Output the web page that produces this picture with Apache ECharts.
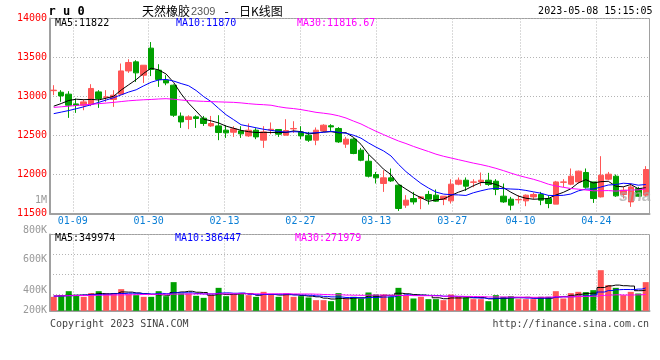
<!DOCTYPE html>
<html><head><meta charset="utf-8">
<script src="https://cdn.jsdelivr.net/npm/echarts@6/dist/echarts.min.js"></script>
<style>html,body{margin:0;padding:0;background:#fff}#c{width:660px;height:360px}</style>
</head><body><div id="c"></div>
<script>
const dates = ['01-04','01-05','01-06','01-09','01-10','01-11','01-12','01-13','01-16','01-17','01-18','01-19','01-20','01-30','01-31',
'02-01','02-02','02-03','02-06','02-07','02-08','02-09','02-10','02-13','02-14','02-15','02-16','02-17','02-20','02-21','02-22','02-23','02-24','02-27','02-28',
'03-01','03-02','03-03','03-06','03-07','03-08','03-09','03-10','03-13','03-14','03-15','03-16','03-17','03-20','03-21','03-22','03-23','03-24','03-27','03-28','03-29','03-30','03-31',
'04-03','04-04','04-06','04-07','04-10','04-11','04-12','04-13','04-14','04-17','04-18','04-19','04-20','04-21','04-24','04-25','04-26','04-27','04-28',
'05-04','05-05','05-08'];
const opens = [13075,13055,13030,12905,12888,12901,13059,12990,12962,13030,13328,13444,13273,13620,13337,13209,13145,12748,12705,12739,
12722,12623,12623,12568,12542,12559,12495,12568,12440,12570,12577,12504,12585,12546,12504,12440,12559,12625,12590,12389,
12453,12312,12170,12000,11885,11957,11863,11607,11692,11692,11744,11735,11680,11662,11876,11927,11900,11905,11927,11914,
11722,11684,11675,11662,11713,11744,11692,11620,11900,11876,11905,12026,11905,11713,11940,11978,11744,11649,11820,11735];
const closes = [13081,13008,12888,12885,12931,13103,12974,12995,13017,13328,13436,13303,13401,13346,13218,13174,12760,12674,12739,12718,
12654,12654,12538,12534,12585,12521,12568,12482,12546,12580,12517,12564,12590,12495,12440,12568,12632,12610,12418,12453,
12269,12183,11978,11957,11957,11918,11564,11671,11649,11713,11684,11658,11722,11876,11927,11850,11905,11927,11872,11808,
11649,11607,11680,11735,11744,11671,11628,11905,11905,11978,12043,11837,11692,11991,12004,11726,11799,11841,11722,12064];
const lows = [13017,12932,12726,12790,12824,12876,12854,12931,12867,13017,13303,13187,13174,13262,13123,13145,12738,12597,12581,12597,
12623,12610,12440,12469,12482,12469,12482,12453,12341,12517,12482,12504,12533,12453,12418,12376,12546,12559,12405,12341,
12260,12170,11962,11885,11777,11905,11533,11572,11615,11555,11615,11649,11607,11628,11863,11790,11837,11854,11854,11735,
11636,11542,11628,11594,11680,11607,11568,11620,11837,11863,11885,11820,11636,11705,11927,11713,11692,11585,11713,11713];
const highs = [13145,13081,13068,12975,12965,13158,13081,13081,13081,13423,13478,13465,13401,13698,13414,13273,13154,12795,12760,12760,
12751,12751,12760,12632,12619,12619,12654,12594,12619,12667,12580,12709,12683,12619,12546,12603,12645,12645,12607,12482,
12469,12341,12256,12033,12055,12077,11872,11735,11777,11722,11790,11808,11722,11940,11962,11962,11940,12026,12021,11940,
11885,11713,11735,11744,11769,11777,11735,11918,11940,12077,12050,12077,11905,12235,12033,12000,11841,11885,11841,12107];
const ma5 = [12876,12910,12949,12965,12959,12963,12956,12978,13004,13083,13150,13216,13297,13363,13341,13288,13180,13034,12913,12813,
12709,12688,12661,12620,12593,12566,12549,12538,12540,12539,12539,12538,12559,12549,12521,12531,12545,12549,12534,12536,
12476,12387,12260,12168,12069,11999,11875,11813,11752,11703,11656,11675,11685,11731,11773,11807,11856,11897,11896,11872,
11832,11773,11723,11696,11683,11687,11692,11737,11771,11817,11892,11934,11891,11908,11913,11850,11842,11872,11818,11830];
const ma10 = [12780,12800,12820,12843,12868,12895,12925,12955,12985,13021,13057,13086,13137,13183,13212,13219,13198,13166,13138,13077,
12999,12934,12848,12766,12703,12638,12619,12599,12580,12566,12553,12544,12549,12545,12530,12535,12541,12554,12541,12529,
12504,12466,12405,12351,12303,12238,12131,12037,11960,11886,11827,11775,11749,11741,11738,11731,11766,11791,11813,11823,
11819,11814,11810,11796,11778,11760,11732,11730,11733,11750,11790,11813,11814,11839,11865,11871,11888,11882,11863,11872];
const ma30 = [12860,12868,12876,12885,12893,12900,12908,12916,12925,12935,12945,12952,12958,12962,12968,12972,12965,12955,12947,12942,
12938,12934,12931,12928,12925,12918,12908,12900,12895,12888,12869,12854,12845,12832,12815,12797,12786,12773,12753,12724,
12685,12648,12600,12554,12512,12470,12430,12397,12360,12327,12295,12261,12234,12212,12190,12168,12146,12127,12105,12079,
12050,12018,11988,11963,11939,11910,11876,11853,11836,11820,11812,11801,11791,11792,11794,11787,11795,11801,11803,11815];
// volumes in thousands (K)
const volK = [235,263,330,263,235,297,330,297,297,364,280,263,235,235,330,246,482,291,291,252,
218,263,386,246,274,286,263,235,319,274,235,291,235,246,224,179,179,162,297,196,
235,207,308,274,274,235,386,263,207,235,196,196,179,274,235,218,196,196,162,263,
235,246,196,196,196,235,235,330,207,297,319,314,347,683,431,386,263,319,291,482];
const volMa5 = [250,255,260,262,265,278,291,284,291,317,314,300,288,275,269,262,306,317,328,312,
307,263,282,273,277,291,291,261,275,275,265,271,271,256,246,235,213,198,208,203,
214,219,249,244,260,260,295,286,273,265,257,219,203,216,216,220,220,224,201,207,
210,220,220,227,214,214,212,238,241,261,278,293,297,392,419,432,422,416,338,348];
const volMa10 = [245,250,255,260,265,270,275,280,286,291,296,296,286,283,293,288,303,302,302,291,
284,284,299,301,295,299,277,271,274,276,278,281,266,266,261,250,242,234,232,224,
224,216,223,226,231,237,257,268,259,262,259,257,245,245,241,239,220,213,209,212,
215,220,222,214,210,212,216,229,234,237,246,253,268,316,340,355,358,357,365,384];
const volMa30 = [250,252,254,256,258,260,262,264,266,268,270,272,274,276,278,279,280,281,282,283,
284,284,285,285,286,286,286,286,286,286,286,287,284,283,283,279,274,269,269,264,
262,260,263,264,262,262,259,258,255,254,254,251,245,245,244,242,240,238,233,233,
233,231,230,228,227,229,231,237,234,237,240,243,245,258,264,269,265,266,269,277];
const tickDates = ['01-09','01-30','02-13','02-27','03-13','03-27','04-10','04-24'];
const volTickValues = [200,400,600,800,1000];
const volTickLabels = ['200K','400K','600K','800K','1M'];
const priceHeader = ['MA5:11822','MA10:11870','MA30:11816.67'];
const volHeader = ['MA5:349974','MA10:386447','MA30:271979'];

const MONO = '"DejaVu Sans Mono", monospace';
const UP = '#ff5656', DOWN = '#00a000';
const GL = 50, GR = 10.5;
const tickIdx = new Set(tickDates.map(d => dates.indexOf(d)));
const showTick = (i) => tickIdx.has(i);
const dotted = {color: '#b4b4b4', type: [1, 2], width: 1};
const candleData = dates.map((d, i) => [opens[i], closes[i], lows[i], highs[i]]);
const volData = volK.map((v, i) => ({value: v, itemStyle: {color: closes[i] >= opens[i] ? UP : DOWN}}));

const chart = echarts.init(document.getElementById('c'), null, {renderer: 'canvas'});
const txt = (x, y, text, fill, font, align) => ({
  type: 'text', x: x, y: y, silent: true, z: 100,
  style: {text: text, fill: fill, font: font, align: align || 'left', verticalAlign: 'middle', textAlign: align || 'left', textVerticalAlign: 'middle'}
});
const rs = (extra) => Object.assign({color: '#999', fontSize: 10, fontFamily: MONO}, extra);

const lineS = (name, data, color, xi, yi, step) => ({
  name: name, type: 'line', data: data, xAxisIndex: xi, yAxisIndex: yi, showSymbol: false, symbol: 'none',
  step: step || false, silent: true, lineStyle: {color: color, width: 1}, z: 5
});

chart.setOption({
  animation: false,
  backgroundColor: '#fff',
  textStyle: {fontFamily: MONO},
  grid: [
    {left: GL, right: GR, top: 18.5, height: 195, show: true, borderColor: '#a0a0a0', borderWidth: 1},
    {left: GL, right: GR, top: 234.5, height: 76.3, show: true, borderColor: '#a0a0a0', borderWidth: 1},
    {left: GL, right: GR, top: 200.7, height: 117.2, show: false}
  ],
  xAxis: [
    {type: 'category', gridIndex: 0, data: dates, boundaryGap: true, show: false},
    {type: 'category', gridIndex: 0, data: dates, boundaryGap: false, position: 'bottom',
      axisLine: {show: true, onZero: false, lineStyle: {color: '#a0a0a0', width: 2}}, axisTick: {show: false},
      axisLabel: {interval: showTick, color: '#0b7fd6', fontSize: 10, fontFamily: MONO, margin: 3},
      splitLine: {show: true, interval: showTick, lineStyle: dotted}},
    {type: 'category', gridIndex: 1, data: dates, boundaryGap: true, show: false},
    {type: 'category', gridIndex: 1, data: dates, boundaryGap: false, position: 'bottom',
      axisLine: {show: true, onZero: false, lineStyle: {color: '#a0a0a0', width: 2}}, axisTick: {show: false},
      axisLabel: {show: false}, splitLine: {show: true, interval: showTick, lineStyle: dotted}},
    {type: 'category', gridIndex: 2, data: dates, show: false}
  ],
  yAxis: [
    {type: 'value', gridIndex: 0, min: 11500, max: 14000, interval: 500, position: 'left',
      axisLine: {show: true, onZero: false, lineStyle: {color: '#a0a0a0', width: 2}}, axisTick: {show: false},
      axisLabel: {color: '#ff0000', fontSize: 10, fontFamily: MONO, margin: 3, padding: [0, 0, 3, 0],
        formatter: function (v) { return String(v); }},
      splitLine: {show: true, lineStyle: dotted}},
    {type: 'value', gridIndex: 1, min: 0, max: 1283, show: false},
    {type: 'value', gridIndex: 1, min: 0, max: 76.3, interval: 20, inverse: true, position: 'left',
      axisLine: {show: true, onZero: false, lineStyle: {color: '#a0a0a0', width: 2}}, axisTick: {show: false},
      axisLabel: {show: false}, splitLine: {show: true, lineStyle: dotted}},
    {type: 'value', gridIndex: 2, min: 200, max: 1000, interval: 200, position: 'left',
      axisLine: {show: false}, axisTick: {show: false}, splitLine: {show: false},
      axisLabel: {margin: 3, color: '#999', fontSize: 10, fontFamily: MONO,
        formatter: function (v) {
          const k = volTickValues.indexOf(v);
          const lab = k >= 0 ? volTickLabels[k] : '';
          if (v === 200) return '{lo|' + lab + '}';
          if (v === 400) return '{md|' + lab + '}';
          return '{n|' + lab + '}';
        },
        rich: {n: rs({}), lo: rs({padding: [0, 0, 14, 0]}), md: rs({padding: [4, 0, 0, 0]})}
      }}
  ],
  series: [
    {type: 'candlestick', xAxisIndex: 0, yAxisIndex: 0, data: candleData, barWidth: 6, silent: true,
      itemStyle: {color: UP, color0: DOWN, borderColor: UP, borderColor0: DOWN, borderWidth: 1}, z: 3},
    lineS('MA5', ma5, '#000000', 0, 0),
    lineS('MA10', ma10, '#0000ff', 0, 0),
    lineS('MA30', ma30, '#ff00ff', 0, 0),
    {type: 'bar', xAxisIndex: 2, yAxisIndex: 1, data: volData, barWidth: 6, silent: true, z: 3},
    lineS('VMA5', volMa5, '#000000', 2, 1, 'middle'),
    lineS('VMA10', volMa10, '#0000ff', 2, 1, 'middle'),
    lineS('VMA30', volMa30, '#ff00ff', 2, 1, 'middle')
  ],
  graphic: [
    txt(48.5, 11.5, 'r u 0', '#000', 'bold 12px ' + MONO),
    txt(142, 11, '天然橡胶', '#000', '12px "Noto Sans CJK SC"'),
    txt(191, 11.5, '2309', '#555', '11px "Liberation Sans", Arial'),
    txt(226.5, 11, '-', '#000', '12px "Noto Sans CJK SC"', 'center'),
    txt(239, 11, '日K线图', '#000', '12px "Noto Sans CJK SC"'),
    txt(652.5, 11.5, '2023-05-08 15:15:05', '#000', '10px ' + MONO, 'right'),
    txt(55, 23.5, priceHeader[0], '#000', '10px ' + MONO),
    txt(176, 23.5, priceHeader[1], '#0000ff', '10px ' + MONO),
    txt(297, 23.5, priceHeader[2], '#ff00ff', '10px ' + MONO),
    txt(55, 238.5, volHeader[0], '#000', '10px ' + MONO),
    txt(175, 238.5, volHeader[1], '#0000ff', '10px ' + MONO),
    txt(295, 238.5, volHeader[2], '#ff00ff', '10px ' + MONO),
    txt(635, 197, 'sina', 'rgba(170,170,170,0.75)', 'italic bold 16px "Liberation Sans", Arial', 'center'),
    txt(50, 324, 'Copyright 2023 SINA.COM', '#444', '10px ' + MONO),
    txt(649, 324, 'http://finance.sina.com.cn', '#444', '10px ' + MONO, 'right')
  ]
});
</script>
</body></html>
